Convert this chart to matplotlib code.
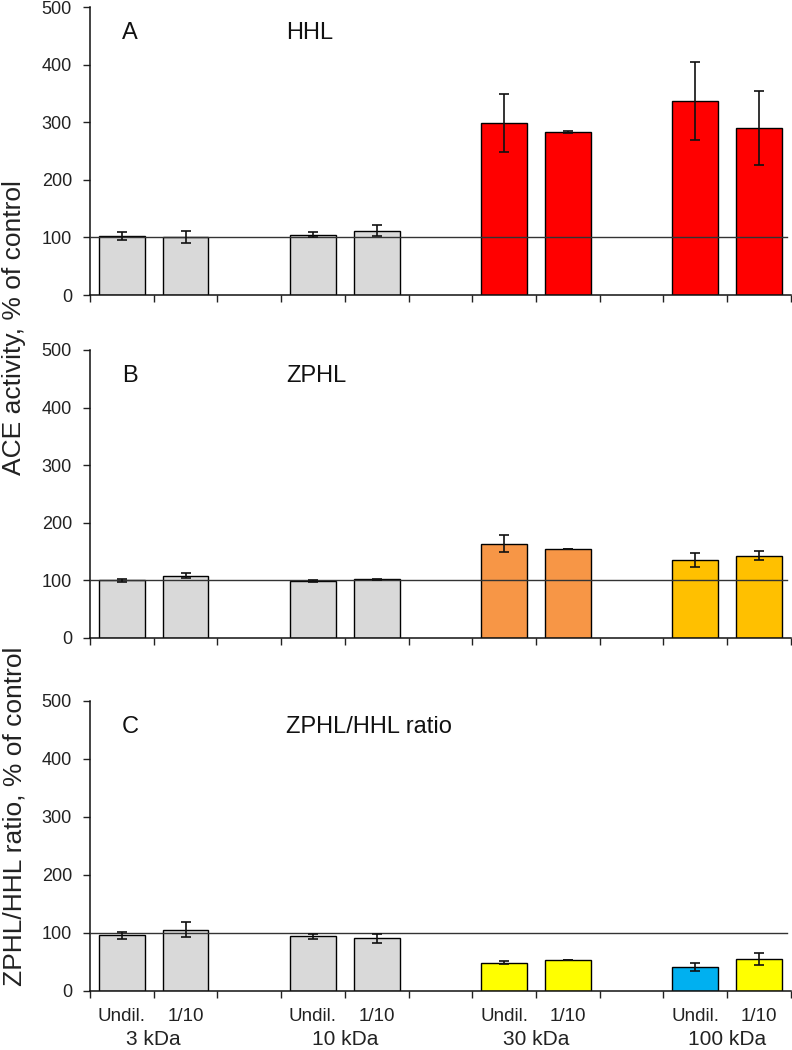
import numpy as np
import matplotlib
matplotlib.use("Agg")
from matplotlib import pyplot as plt

plt.rcParams['font.family'] = ['Liberation Sans', 'DejaVu Sans']

# slot positions of the bars (11 slots, gaps between groups)
positions = [0, 1, 3, 4, 6, 7, 9, 10]
dilutions = ['Undil.', '1/10'] * 4
groups = ['3 kDa', '10 kDa', '30 kDa', '100 kDa']

hhl_vals = [103, 101, 105, 112, 299, 283, 337, 290]
hhl_err = [7, 10, 5, 9, 50, 2, 68, 64]
hhl_colors = ['#d9d9d9'] * 4 + ['#ff0000'] * 4

zphl_vals = [100, 108, 99, 102, 164, 154, 135, 143]
zphl_err = [2, 4, 1, 0.5, 15, 0, 12, 8]
zphl_colors = ['#d9d9d9'] * 4 + ['#f79646'] * 2 + ['#ffc000'] * 2

ratio_vals = [96, 106, 94, 91, 49, 53, 42, 55]
ratio_err = [6, 13, 4, 8, 3, 0, 7, 11]
ratio_colors = ['#d9d9d9'] * 4 + ['#ffff00'] * 2 + ['#00b0f0', '#ffff00']

panels = [
    ('A', 'HHL', hhl_vals, hhl_err, hhl_colors),
    ('B', 'ZPHL', zphl_vals, zphl_err, zphl_colors),
    ('C', 'ZPHL/HHL ratio', ratio_vals, ratio_err, ratio_colors),
]
rects = [
    [0.1136, 0.719, 0.885, 0.2743],
    [0.1136, 0.3924, 0.885, 0.2743],
    [0.1136, 0.0562, 0.885, 0.2762],
]

fig = plt.figure(figsize=(7.92, 10.5), dpi=100)

axes = []
for (letter, name, vals, err, cols), r in zip(panels, rects):
    ax = fig.add_axes(r)
    ax.bar(positions, vals, width=0.72, color=cols, edgecolor='black', linewidth=1.0, zorder=2)
    ax.errorbar(positions, vals, yerr=err, fmt='none', ecolor='#111111',
                elinewidth=1.2, capsize=3.5, capthick=1.2, zorder=4)
    ax.axhline(100, xmin=0, xmax=0.995, color='#333333', linewidth=1.0, zorder=3)
    ax.set_xlim(-0.5, 10.5)
    ax.set_ylim(0, 500)
    ax.set_yticks([0, 100, 200, 300, 400, 500])
    ax.set_xticks(np.arange(-0.5, 11, 1))
    ax.set_xticklabels([])
    ax.tick_params(axis='both', direction='out', length=5, width=1, labelsize=13, colors='#222222')
    ax.tick_params(axis='y', pad=8)
    for s in ['top', 'right']:
        ax.spines[s].set_visible(False)
    for s in ['left', 'bottom']:
        ax.spines[s].set_linewidth(1.1)
        ax.spines[s].set_color('#111111')
        ax.spines[s].set_clip_on(False)
    ax.text(0.13, 455, letter, fontsize=17, ha='center', va='center', color='#111111')
    ax.text(2.58, 455, name, fontsize=17, ha='left', va='center', color='#111111')
    axes.append(ax)

# dilution and group labels under the bottom panel
axc = axes[2]
for p, lab in zip(positions, dilutions):
    axc.text(p, -0.088, lab, transform=axc.get_xaxis_transform(), ha='center', va='center',
             fontsize=13.5, color='#222222')
for i, g in enumerate(groups):
    axc.text(positions[2 * i] + 0.5, -0.166, g, transform=axc.get_xaxis_transform(),
             ha='center', va='center', fontsize=15, color='#222222')

fig.text(0.018, 1 - 328 / 1050, 'ACE activity, % of control', rotation=90,
         ha='center', va='center', fontsize=19, color='#222222')
fig.text(0.018, 1 - 816 / 1050, 'ZPHL/HHL ratio, % of control', rotation=90,
         ha='center', va='center', fontsize=19, color='#222222')

fig.savefig('out.png', dpi=100)
